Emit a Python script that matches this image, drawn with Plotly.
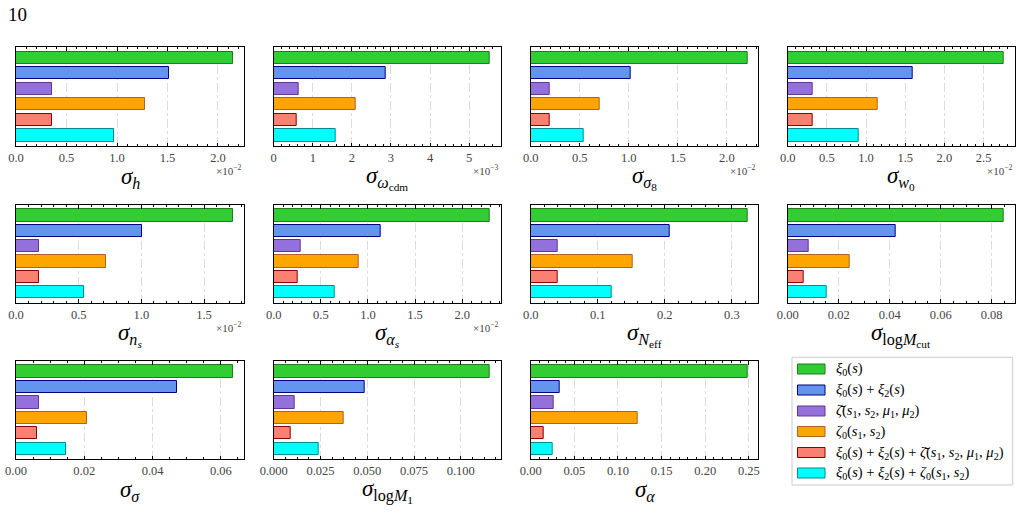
import plotly.graph_objects as go

# ---------------- data ----------------
param_titles = [
    "<i>σ</i><sub><i>h</i></sub>",
    "<i>σ</i><sub><i>ω</i><sub>cdm</sub></sub>",
    "<i>σ</i><sub><i>σ</i><sub>8</sub></sub>",
    "<i>σ</i><sub><i>w</i><sub>0</sub></sub>",
    "<i>σ</i><sub><i>n</i><sub><i>s</i></sub></sub>",
    "<i>σ</i><sub><i>α</i><sub><i>s</i></sub></sub>",
    "<i>σ</i><sub><i>N</i><sub>eff</sub></sub>",
    "<i>σ</i><sub>log<i>M</i><sub>cut</sub></sub>",
    "<i>σ</i><sub><i>σ</i></sub>",
    "<i>σ</i><sub>log<i>M</i><sub>1</sub></sub>",
    "<i>σ</i><sub><i>α</i></sub>",
]
# offset exponent used for axis display (0 = none)
offset_exp = [-2, -3, -2, -2, -2, -2, 0, 0, 0, 0, 0]
major_dtick = [0.5, 1, 0.5, 0.5, 0.5, 0.5, 0.1, 0.02, 0.02, 0.025, 0.05]
minor_dtick = [0.1, 0.2, 0.1, 0.1, 0.1, 0.1, 0.02, 0.005, 0.005, 0.00625, 0.01]
tick_fmt = [".1f", "d", ".1f", ".1f", ".1f", ".1f", ".1f", ".2f", ".2f", ".3f", ".2f"]

series_names = [
    "<i>ξ</i><sub>0</sub>(<i>s</i>)",
    "<i>ξ</i><sub>0</sub>(<i>s</i>) + <i>ξ</i><sub>2</sub>(<i>s</i>)",
    "<i>ζ̄</i>(<i>s</i><sub>1</sub>, <i>s</i><sub>2</sub>, <i>μ</i><sub>1</sub>, <i>μ</i><sub>2</sub>)",
    "<i>ζ</i><sub>0</sub>(<i>s</i><sub>1</sub>, <i>s</i><sub>2</sub>)",
    "<i>ξ</i><sub>0</sub>(<i>s</i>) + <i>ξ</i><sub>2</sub>(<i>s</i>) + <i>ζ̄</i>(<i>s</i><sub>1</sub>, <i>s</i><sub>2</sub>, <i>μ</i><sub>1</sub>, <i>μ</i><sub>2</sub>)",
    "<i>ξ</i><sub>0</sub>(<i>s</i>) + <i>ξ</i><sub>2</sub>(<i>s</i>) + <i>ζ</i><sub>0</sub>(<i>s</i><sub>1</sub>, <i>s</i><sub>2</sub>)",
]
xi0 = [0.0215, 0.00554, 0.0221, 0.02763, 0.01732, 0.02297, 0.3233, 0.0849, 0.0636, 0.1157, 0.2484]
xi0_xi2 = [0.01515, 0.002855, 0.0102, 0.01594, 0.01006, 0.01138, 0.2069, 0.0424, 0.0473, 0.0489, 0.0333]
zeta_bar = [0.0036, 0.00064, 0.00194, 0.00323, 0.00187, 0.00283, 0.0408, 0.0082, 0.00666, 0.0110, 0.0264]
zeta0 = [0.01274, 0.00210, 0.00704, 0.01148, 0.00721, 0.00901, 0.1517, 0.0242, 0.0207, 0.0374, 0.1223]
xi_zeta_bar = [0.00353, 0.00060, 0.00194, 0.00319, 0.00187, 0.00258, 0.0400, 0.0061, 0.00627, 0.00924, 0.01445]
xi_zeta0 = [0.00967, 0.001585, 0.00541, 0.0090, 0.00546, 0.00647, 0.1204, 0.0154, 0.01478, 0.0240, 0.0252]
all_series = [xi0, xi0_xi2, zeta_bar, zeta0, xi_zeta_bar, xi_zeta0]

fill_colors = ["#32CD32", "#6495ED", "#9370DB", "#FFA500", "#FA8072", "#00FFFF"]
edge_colors = ["#1E7B1E", "#000080", "#663399", "#B0602A", "#8B0000", "#008B8B"]

# ---------------- layout geometry (pixels) ----------------
W, H = 1022, 520
col_px = [(16, 244), (273.7, 501), (530.7, 758.3), (787.7, 1015)]
row_px = [(47, 146), (205, 302.7), (361, 459.3)]

fig = go.Figure()
annotations = []
shapes = []
FONT = "Liberation Serif"

for i in range(11):
    r, c = divmod(i, 4)
    ax = "" if i == 0 else str(i + 1)
    x0, x1 = col_px[c]
    yt, yb = row_px[r]
    scale = 10 ** (-offset_exp[i])
    vals = [s[i] * scale for s in all_series]
    fig.add_trace(go.Bar(
        x=vals, y=list(range(6)), orientation="h", width=0.8,
        marker=dict(color=fill_colors, line=dict(color=edge_colors, width=1)),
        xaxis="x" + ax, yaxis="y" + ax, showlegend=False, hoverinfo="x",
    ))
    xmax = max(vals) * 1.05
    fig.layout["xaxis" + ax] = dict(
        domain=[x0 / W, x1 / W], anchor="y" + ax, range=[0, xmax],
        dtick=major_dtick[i], tick0=0, tickformat=tick_fmt[i],
        ticks="inside", ticklen=3.5, tickwidth=0.8, tickcolor="black",
        minor=dict(dtick=minor_dtick[i], tick0=0, ticks="inside", ticklen=2,
                   tickwidth=0.6, tickcolor="black", showgrid=False),
        showline=True, linecolor="black", linewidth=1, mirror="ticks",
        showgrid=True, gridcolor="#dcdcdc", griddash="dashdot", gridwidth=0.8,
        zeroline=False, tickfont=dict(family=FONT, size=12.5, color="#444"),
        fixedrange=True, automargin=False,
    )
    fig.layout["yaxis" + ax] = dict(
        domain=[1 - yb / H, 1 - yt / H], anchor="x" + ax, range=[5.69, -0.69],
        showticklabels=False, ticks="", showgrid=False, zeroline=False,
        showline=True, linecolor="black", linewidth=1, mirror=True,
        fixedrange=True, automargin=False,
    )
    # axis title
    annotations.append(dict(
        text=param_titles[i], xref="paper", yref="paper",
        x=(x0 + x1) / 2 / W, y=1 - (yb + 32) / H, xanchor="center", yanchor="middle",
        showarrow=False, font=dict(family=FONT, size=23, color="black"),
    ))
    if offset_exp[i] != 0:
        annotations.append(dict(
            text="×10<sup>−%d</sup>" % (-offset_exp[i]), xref="paper", yref="paper",
            x=x1 / W, y=1 - (yb + 24) / H, xanchor="right", yanchor="middle",
            showarrow=False, font=dict(family=FONT, size=11, color="#444"),
        ))

# figure label
annotations.append(dict(
    text="10", xref="paper", yref="paper", x=6 / W, y=1 - 14 / H,
    xanchor="left", yanchor="middle", showarrow=False,
    font=dict(family=FONT, size=19, color="black"),
))

# legend (drawn manually)
shapes.append(dict(type="rect", xref="paper", yref="paper",
                   x0=792 / W, x1=1012.7 / W, y0=1 - 485 / H, y1=1 - 357.3 / H,
                   line=dict(color="#cccccc", width=1), fillcolor="white"))
leg_y = [369, 390, 411, 431.5, 452.5, 473]
for k in range(6):
    yc = leg_y[k]
    shapes.append(dict(type="rect", xref="paper", yref="paper",
                       x0=797.5 / W, x1=825 / W, y0=1 - (yc + 5) / H, y1=1 - (yc - 5) / H,
                       line=dict(color=edge_colors[k], width=1), fillcolor=fill_colors[k]))
    annotations.append(dict(
        text=series_names[k], xref="paper", yref="paper", x=834 / W, y=1 - yc / H,
        xanchor="left", yanchor="middle", showarrow=False,
        font=dict(family=FONT, size=14.5, color="black"),
    ))

fig.update_layout(
    width=W, height=H, margin=dict(l=0, r=0, t=0, b=0, autoexpand=False),
    paper_bgcolor="white", plot_bgcolor="white",
    annotations=annotations, shapes=shapes, bargap=0, showlegend=False,
)
fig.write_html("out.html", config={"displayModeBar": False})
